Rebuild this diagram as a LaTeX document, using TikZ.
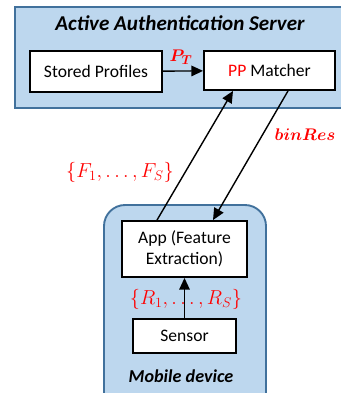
\documentclass[tikz,border=0pt]{standalone}
\usepackage{amsmath, amssymb, bm}
\usepackage{fontspec}
\setmainfont{Carlito}
\usepackage{tikz}
\usetikzlibrary{positioning, arrows.meta, calc}

\definecolor{boxblue}{RGB}{189,215,238}
\definecolor{edgeblue}{RGB}{65,113,156}
\definecolor{labred}{RGB}{255,0,0}

\tikzset{
  unit/.style={draw, fill=white, line width=1.6pt, inner sep=0pt, align=center,
    font=\fontsize{15}{18}\selectfont},
  flow/.style={line width=1.2pt, -{Triangle[length=10pt, width=9pt]}},
  lab/.style={text=labred, font=\fontsize{17}{20}\selectfont},
}

\begin{document}
\begin{tikzpicture}[x=0.03cm, y=-0.03cm]
  \useasboundingbox (0,0) rectangle (341,393);
  % containers
  \draw[fill=boxblue, draw=edgeblue, line width=2pt] (15,7) rectangle (350,108);
  \draw[fill=boxblue, draw=edgeblue, line width=1.6pt, rounded corners=18pt] (104,205) rectangle (266,420);
  \node (server) at (180,23) {\fontsize{18}{21}\selectfont\bfseries\itshape Active Authentication Server};
  \node (mobile) at (181,376) {\fontsize{15.5}{18}\selectfont\bfseries\itshape Mobile device};
  % units
  \node[unit, minimum width=3.96cm, minimum height=1.23cm] (stored) at (96,71.5) {Stored Profiles};
  \node[unit, minimum width=3.93cm, minimum height=1.17cm] (matcher) at (269.5,70.5) {\textcolor{labred}{PP} Matcher};
  \node[unit, minimum width=3.75cm, minimum height=1.68cm] (app) at (184.5,249) {App (Feature\\Extraction)};
  \node[unit, minimum width=3.09cm, minimum height=1.02cm] (sensor) at (184.5,336) {Sensor};
  % connectors
  \draw[flow] (stored) -- (matcher);
  \draw[flow] ([xshift=-0.825cm]app.north) -- ([xshift=-1.095cm]matcher.south);
  \draw[flow] ([xshift=0.555cm]matcher.south) -- ([xshift=0.855cm]app.north);
  \draw[flow] (sensor) -- (app);
  % labels
  \node[lab, font=\fontsize{15}{18}\selectfont] (pt) at (181,57) {$\bm{P_T}$};
  \node[lab] (feat) at (120,172) {$\{F_1, \ldots, F_S\}$};
  \node[lab, font=\fontsize{15.5}{18}\selectfont] (res) at (305,135) {$\bm{binRes}$};
  \node[lab] (raw) at (186,299) {$\{R_1, \ldots, R_S\}$};
\end{tikzpicture}
\end{document}
